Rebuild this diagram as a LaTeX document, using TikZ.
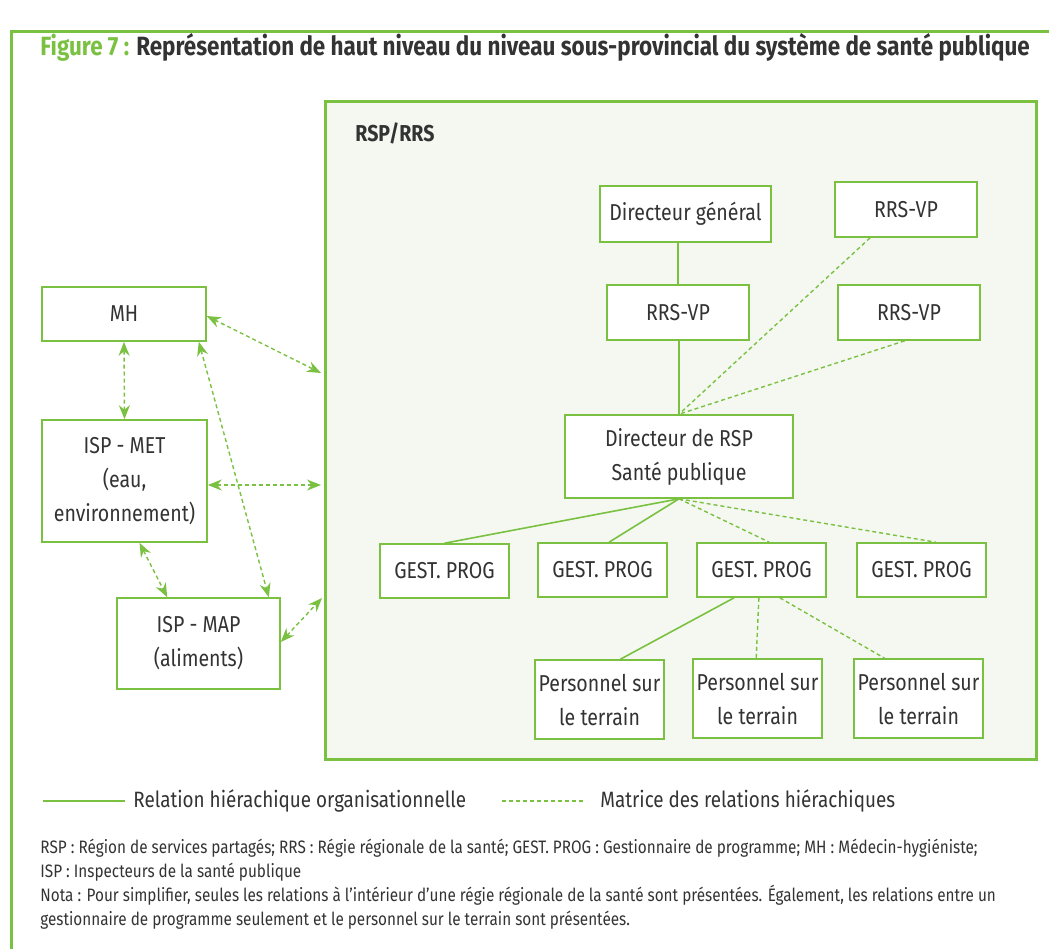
\documentclass[tikz,border=0pt]{standalone}
\usepackage{fontspec}
\setmainfont{Fira Sans}[FakeStretch=0.85]
\usetikzlibrary{arrows.meta,calc}
\definecolor{vert}{RGB}{122,193,66}
\definecolor{fond}{RGB}{245,248,240}
\definecolor{texte}{RGB}{51,51,51}
\tikzstyle{box}=[rectangle,draw=vert,line width=0.8pt,fill=white,text=texte,inner sep=0pt,align=center,font=\fontsize{11.5}{17}\selectfont]
\tikzstyle{org}=[draw=vert,line width=0.8pt]
\tikzstyle{matrice}=[draw=vert,line width=0.7pt,dash pattern=on 2pt off 1.5pt]
\tikzstyle{lien}=[matrice,{Stealth[length=7pt,width=5.5pt]}-{Stealth[length=7pt,width=5.5pt]}]
\tikzstyle{legende}=[anchor=west,text=texte,inner sep=0pt,font=\fontsize{11.1}{14}\selectfont]

\begin{document}
\begin{tikzpicture}[x=0.5pt,y=-0.5pt]
    \useasboundingbox (0,0) rectangle (1049,949);
    \draw[vert,line width=1.5pt] (1049,31) -- (11,31) -- (11,949);
    \node (titre) at (40,47) [anchor=west,inner sep=0pt,font=\fontsize{13.2}{16}\selectfont\bfseries]
      {\textcolor{vert}{Figure 7 :} \textcolor{texte}{Représentation de haut niveau du niveau sous-provincial du système de santé publique}};

    % panneau RSP/RRS
    \node (rsp) at (680.5,430) [draw=vert,fill=fond,line width=1.5pt,minimum width=355.5pt,minimum height=329pt,inner sep=0pt] {};
    \node (rsptitre) at (355,133) [anchor=west,inner sep=0pt,text=texte,font=\fontsize{11.5}{14}\selectfont\bfseries] {RSP/RRS};

    \node (dg)   at (685.5,214)   [box,minimum width=85.5pt,minimum height=28pt] {Directeur général};
    \node (vpA)  at (906,209.5)   [box,minimum width=71pt,minimum height=27.5pt] {RRS-VP};
    \node (vpB)  at (678,312.5)   [box,minimum width=71pt,minimum height=27.5pt] {RRS-VP};
    \node (vpC)  at (909,312.5)   [box,minimum width=71pt,minimum height=27.5pt] {RRS-VP};
    \node (drsp) at (679,456.5)   [box,minimum width=114pt,minimum height=41.5pt] {Directeur de RSP\\Santé publique};

    \node (gp1) at (444.5,571) [box,minimum width=64.5pt,minimum height=27pt] {GEST. PROG};
    \node (gp2) at (602.5,570) [box,minimum width=64.5pt,minimum height=27pt] {GEST. PROG};
    \node (gp3) at (761.5,570) [box,minimum width=64.5pt,minimum height=27pt] {GEST. PROG};
    \node (gp4) at (921.5,570) [box,minimum width=64.5pt,minimum height=27pt] {GEST. PROG};

    \node (pt1) at (599.5,699.5) [box,minimum width=64.5pt,minimum height=39.5pt] {Personnel sur\\le terrain};
    \node (pt2) at (757.5,698.5) [box,minimum width=64.5pt,minimum height=39.5pt] {Personnel sur\\le terrain};
    \node (pt3) at (918.5,698.5) [box,minimum width=64.5pt,minimum height=39.5pt] {Personnel sur\\le terrain};

    \node (mh)  at (124,314)   [box,minimum width=82pt,minimum height=27pt] {MH};
    \node (met) at (124.5,481) [box,minimum width=82.5pt,minimum height=61pt] {ISP - MET\\(eau,\\environnement)};
    \node (map) at (198.5,643.5) [box,minimum width=81.5pt,minimum height=45.5pt] {ISP - MAP\\(aliments)};

    \draw [org] (vpB.north) -- (vpB.north |- dg.south);
    \draw [org] (drsp.north) -- (vpB.south -| drsp.north);
    \draw [matrice] ($(vpA.south west)!.25!(vpA.south east)$) -- (drsp.north);
    \draw [matrice] ($(vpC.south west)!.47!(vpC.south east)$) -- (drsp.north);

    \draw [org] (drsp.south) -- (gp1.north);
    \draw [org] (drsp.south) -- ($(gp2.north west)!.55!(gp2.north east)$);
    \draw [matrice] (drsp.south) -- ($(gp3.north west)!.56!(gp3.north east)$);
    \draw [matrice] (drsp.south) -- ($(gp4.north west)!.61!(gp4.north east)$);

    \draw [org] ($(gp3.south west)!.29!(gp3.south east)$) -- ($(pt1.north west)!.66!(pt1.north east)$);
    \draw [matrice] ($(gp3.south west)!.48!(gp3.south east)$) -- ($(pt2.north west)!.49!(pt2.north east)$);
    \draw [matrice] ($(gp3.south west)!.64!(gp3.south east)$) -- ($(pt3.north west)!.24!(pt3.north east)$);

    % relations avec le MH et les ISP
    \coordinate (c1) at (321,373);
    \coordinate (c2) at (321,485);
    \coordinate (c3) at (322,598);
    \draw [lien] (mh.east |- 0,316) -- (c1);
    \draw [lien] (mh.south) -- (met.north);
    \draw [lien] ($(mh.south east)+(-8,0)$) -- ($(map.north east)+(-12,0)$);
    \draw [lien] (met.east |- c2) -- (c2);
    \draw [lien] ($(met.south west)!.59!(met.south east)$) -- ($(map.north west)!.31!(map.north east)$);
    \draw [lien] (map.east |- 0,642) -- (c3);

    % legende
    \coordinate (l1a) at (43,801);
    \coordinate (l1b) at (125,801);
    \coordinate (l2a) at (502,801);
    \coordinate (l2b) at (585,801);
    \draw [org] (l1a) -- (l1b);
    \node (leg1) at (133,801) [legende] {Relation hiérachique organisationnelle};
    \draw [matrice] (l2a) -- (l2b);
    \node (leg2) at (600,801) [legende] {Matrice des relations hiérachiques};

    \node (nota) at (40,839) [anchor=north west,align=left,inner sep=0pt,text=texte,font=\fontsize{9}{12}\selectfont]
      {RSP : Région de services partagés; RRS : Régie régionale de la santé; GEST. PROG : Gestionnaire de programme; MH : Médecin-hygiéniste;\\
       ISP : Inspecteurs de la santé publique\\
       Nota : Pour simplifier, seules les relations à l’intérieur d’une régie régionale de la santé sont présentées. Également, les relations entre un\\
       gestionnaire de programme seulement et le personnel sur le terrain sont présentées.};
\end{tikzpicture}
\end{document}
